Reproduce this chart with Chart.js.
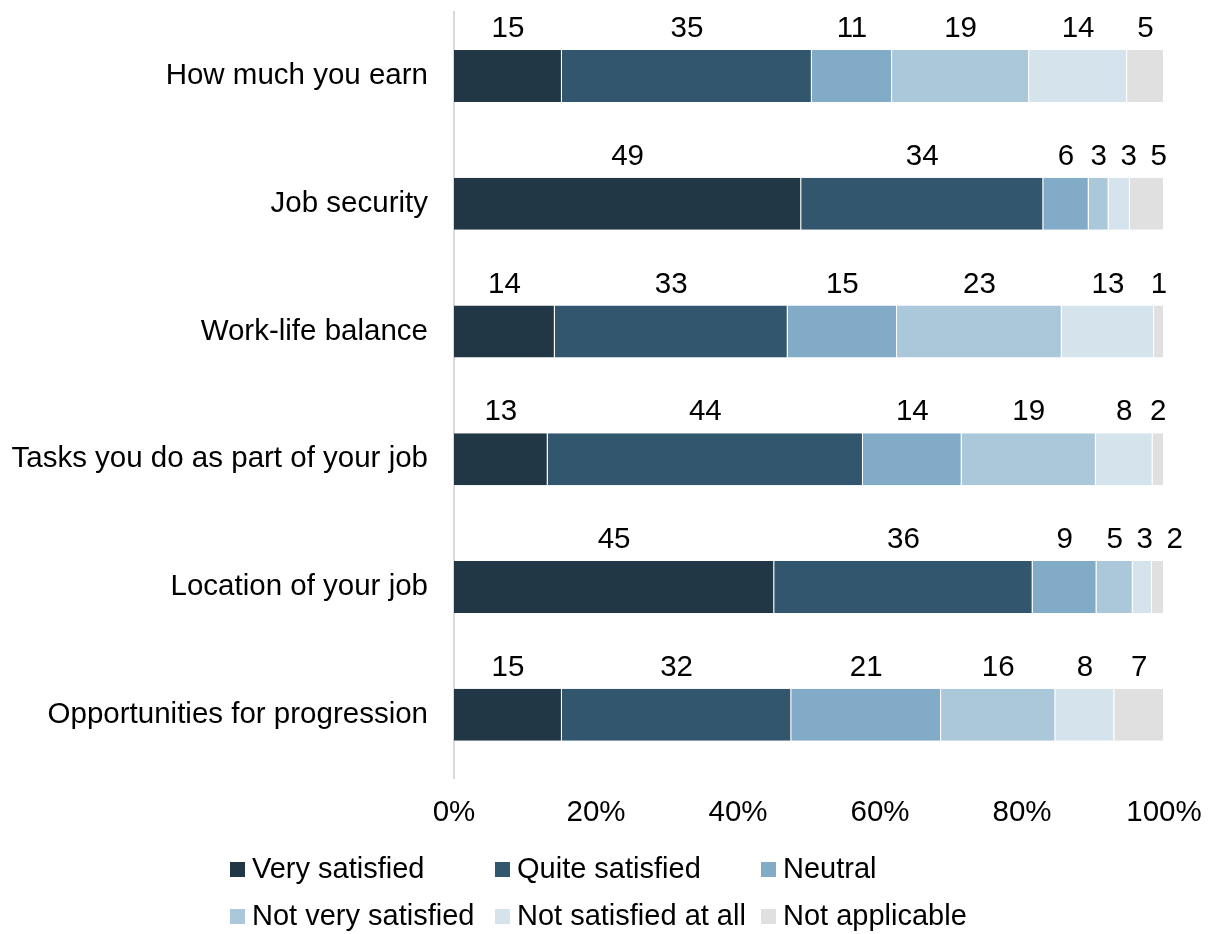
<!DOCTYPE html>
<html>
<head>
<meta charset="utf-8">
<script src="https://cdn.jsdelivr.net/npm/chart.js@4/dist/chart.umd.min.js"></script>
<style>
  html, body { margin: 0; padding: 0; background: #fff; }
  #wrap { width: 1208px; height: 934px; position: relative; }
</style>
</head>
<body>
<div id="wrap"><canvas id="chart" width="1208" height="934"></canvas></div>
<script>
const categories = [
    'How much you earn',
    'Job security',
    'Work-life balance',
    'Tasks you do as part of your job',
    'Location of your job',
    'Opportunities for progression'
];
const seriesNames = ['Very satisfied', 'Quite satisfied', 'Neutral', 'Not very satisfied', 'Not satisfied at all', 'Not applicable'];
const verySatisfied = [15.2, 48.9, 14.2, 13.2, 45.1, 15.2];
const quiteSatisfied = [35.2, 34.1, 32.8, 44.4, 36.4, 32.3];
const neutral = [11.3, 6.4, 15.4, 13.9, 9.0, 21.1];
const notVerySatisfied = [19.3, 2.8, 23.2, 18.9, 5.1, 16.1];
const notSatisfiedAtAll = [13.8, 3.0, 13.0, 8.0, 2.7, 8.3];
const notApplicable = [5.2, 4.8, 1.4, 1.6, 1.7, 7.0];
const tickValues = [0, 20, 40, 60, 80, 100];

const colors = ['#223746', '#31566d', '#81abc7', '#abc8da', '#d5e3ec', '#e0e0e0'];
const FONT = "'Liberation Sans', Arial, sans-serif";
const FONT_SIZE = 29.5;

// value labels above each segment, nudged right when they would collide
const valueLabels = {
    id: 'valueLabels',
    afterDatasetsDraw(chart) {
        const ctx = chart.ctx;
        ctx.save();
        ctx.font = FONT_SIZE + 'px ' + FONT;
        ctx.fillStyle = '#000';
        ctx.textAlign = 'center';
        ctx.textBaseline = 'middle';
        const lastX = {};
        chart.data.datasets.forEach((ds, di) => {
            chart.getDatasetMeta(di).data.forEach((bar, i) => {
                let x = (bar.x + bar.base) / 2;
                if (lastX[i] !== undefined && x - lastX[i] < 30) x = lastX[i] + 30;
                lastX[i] = x;
                const y = bar.y - bar.height / 2 - 21;
                ctx.fillText(String(Math.round(ds.data[i])), x, y);
            });
        });
        ctx.restore();
    }
};

// legend laid out as a 3-column grid under the axis
const gridLegend = {
    id: 'gridLegend',
    afterDraw(chart) {
        const ctx = chart.ctx;
        const colX = [230, 495, 761];
        const rowY = [870, 917];
        ctx.save();
        ctx.font = '29px ' + FONT;
        ctx.textBaseline = 'middle';
        ctx.textAlign = 'left';
        chart.data.datasets.forEach((ds, i) => {
            const x = colX[i % 3];
            const y = rowY[Math.floor(i / 3)];
            ctx.fillStyle = ds.backgroundColor;
            ctx.fillRect(x, y - 8, 15, 15);
            ctx.fillStyle = '#000';
            ctx.fillText(ds.label, x + 22, y);
        });
        ctx.restore();
    }
};

const seriesData = [verySatisfied, quiteSatisfied, neutral, notVerySatisfied, notSatisfiedAtAll, notApplicable];

new Chart(document.getElementById('chart'), {
    type: 'bar',
    data: {
        labels: categories,
        datasets: seriesNames.map((name, i) => ({
            label: name,
            data: seriesData[i],
            backgroundColor: colors[i],
            borderColor: 'rgba(255,255,255,0.5)',
            borderWidth: {top: 0, bottom: 0, left: 0, right: 1},
            categoryPercentage: 1,
            barPercentage: 0.407
        }))
    },
    options: {
        indexAxis: 'y',
        responsive: false,
        animation: false,
        layout: {
            padding: {left: 12, right: 44, top: 12, bottom: 94}
        },
        scales: {
            x: {
                stacked: true,
                min: 0,
                max: 100,
                afterBuildTicks: (scale) => {
                    scale.ticks = tickValues.map(v => ({value: v}));
                },
                afterFit: (scale) => {
                    scale.paddingLeft = 0;
                    scale.paddingRight = 0;
                },
                ticks: {
                    color: '#000',
                    padding: 9,
                    font: {size: FONT_SIZE, family: FONT},
                    callback: (v) => v + '%'
                },
                grid: {display: false},
                border: {display: false}
            },
            y: {
                stacked: true,
                afterFit: (scale) => {
                    scale.width = 442;
                    scale.paddingTop = 0;
                    scale.paddingBottom = 0;
                },
                ticks: {
                    color: '#000',
                    padding: 26,
                    font: {size: FONT_SIZE, family: FONT}
                },
                grid: {display: false, drawTicks: false},
                border: {display: true, color: '#d9d9d9', width: 2}
            }
        },
        plugins: {
            legend: {display: false},
            tooltip: {enabled: false}
        }
    },
    plugins: [valueLabels, gridLegend]
});
</script>
</body>
</html>
